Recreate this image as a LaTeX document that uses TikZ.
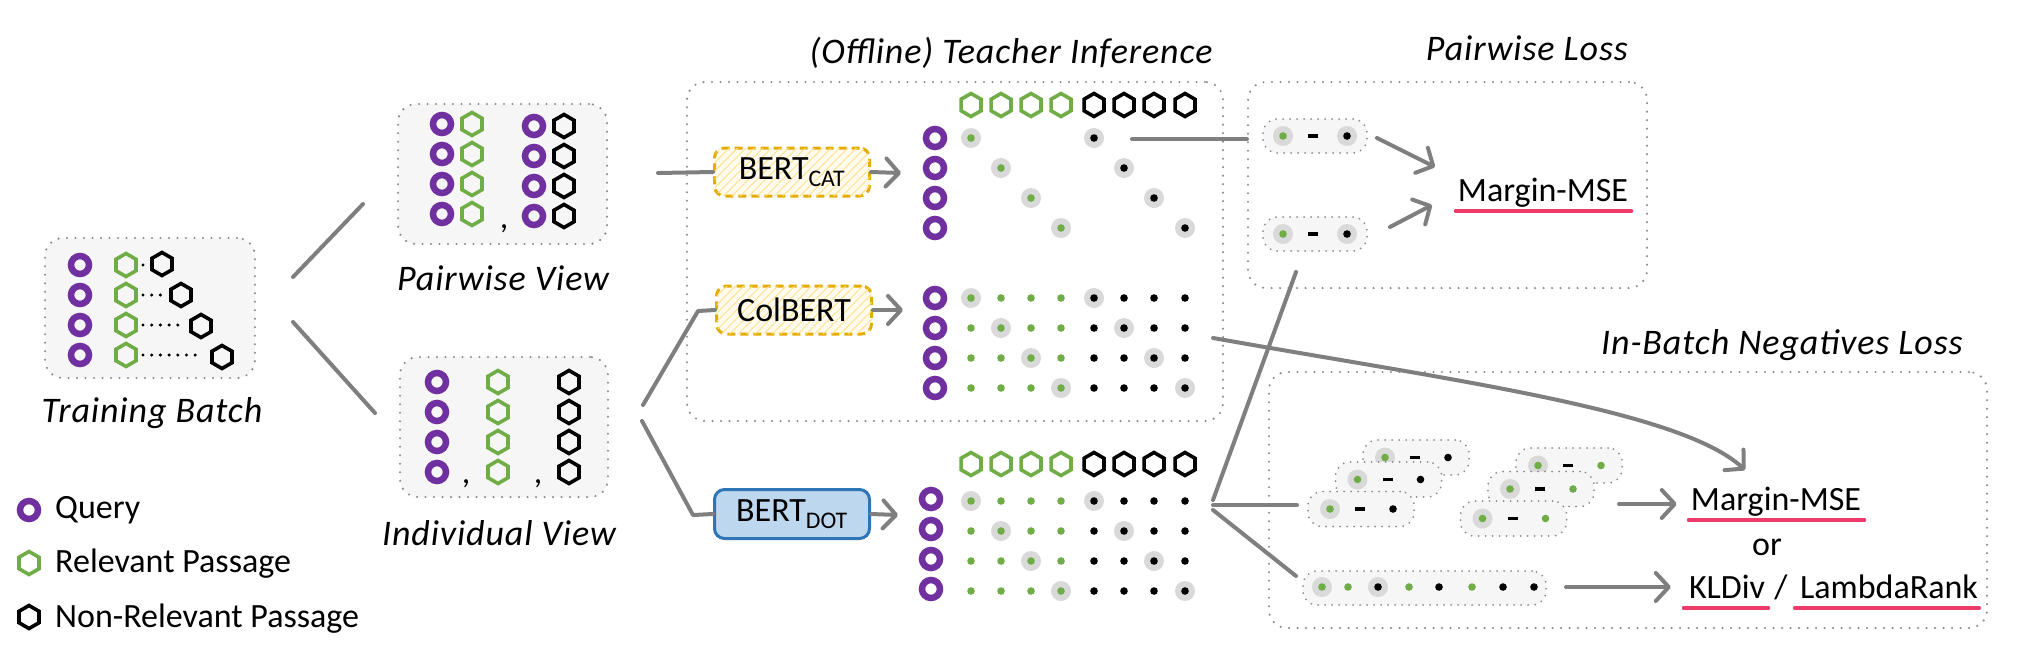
\documentclass[tikz,border=0pt]{standalone}
\usepackage{fontspec}
\setmainfont{Carlito}
\usetikzlibrary{arrows.meta,patterns.meta,calc}
\definecolor{qpurple}{HTML}{7030A0}
\definecolor{rgreen}{HTML}{70AD47}
\definecolor{conngray}{HTML}{7F7F7F}
\definecolor{dotgray}{HTML}{8C8C8C}
\definecolor{hlgray}{HTML}{D9D9D9}
\definecolor{boxfill}{HTML}{F6F6F6}
\definecolor{gold}{HTML}{E5AC00}
\definecolor{hatch}{HTML}{FFE08A}
\definecolor{lightyel}{HTML}{FFFBEF}
\definecolor{dotblue}{HTML}{BDD7EE}
\definecolor{dotborder}{HTML}{2E75B6}
\definecolor{ulpink}{HTML}{EE3B6A}
\tikzset{
  dotbox/.style={draw=dotgray, line width=2.4pt, dash pattern=on 0pt off 8.5pt, line cap=round, rounded corners=18pt, inner sep=0pt},
  grpbox/.style={dotbox, fill=boxfill},
  pillbox/.style={draw=dotgray, line width=2pt, dash pattern=on 0pt off 7pt, line cap=round, rounded corners=14pt, fill=boxfill, minimum height=35pt, minimum width=106pt, inner sep=0pt},
  conn/.style={draw=conngray, line width=4pt, line cap=round, line join=round},
  arr/.style={conn, -{Straight Barb[length=13pt,width=28pt,round]}},
  lbl/.style={font=\fontsize{34}{40}\selectfont, inner sep=0pt},
  ilbl/.style={font=\fontsize{36}{42}\selectfont\itshape\addfontfeature{LetterSpace=2.5}, inner sep=0pt},
  teacherbox/.style={draw=gold, line width=3pt, dash pattern=on 8pt off 5pt, rounded corners=10pt, fill=lightyel, postaction={pattern={Lines[angle=45,distance=6pt,line width=0.9pt]}, pattern color=hatch}, minimum width=155pt, minimum height=48pt, inner sep=0pt, font=\fontsize{34}{40}\selectfont},
  studentbox/.style={draw=dotborder, line width=3pt, rounded corners=10pt, fill=dotblue, minimum width=155pt, minimum height=49pt, inner sep=0pt, font=\fontsize{34}{40}\selectfont},
  ul/.style={draw=ulpink, line width=4pt, line cap=round},
  pics/qry/.style={code={\draw[qpurple, line width=6.5pt] (0,0) circle[radius=9pt];}},
  pics/hex/.style={code={\draw[#1, line width=3.6pt, line join=miter] (90:11.5pt)--(150:11.5pt)--(210:11.5pt)--(270:11.5pt)--(330:11.5pt)--(30:11.5pt)--cycle;}},
  pics/hdot/.style={code={\fill[hlgray] (0,0) circle[radius=10pt]; \fill[#1] (0,0) circle[radius=3.8pt];}},
  pics/sdot/.style={code={\fill[#1] (0,0) circle[radius=3.8pt];}},
  pics/tdot/.style={code={\fill[black] (0,0) circle[radius=1.7pt];}},
  pics/minus/.style={code={\fill[black] (-5pt,-1.8pt) rectangle (5pt,1.8pt);}},
}
\begin{document}
\begin{tikzpicture}[x=1pt,y=-1pt]
\useasboundingbox (0,0) rectangle (2021,665);

% ---------------- Training batch ----------------
\node[grpbox, minimum width=210pt, minimum height=140pt] (tb) at (150,308) {};
\foreach \ry [count=\ri] in {265,295,325,355}{
  \pic at (80,\ry) {qry};
  \pic at (126,\ry) {hex=rgreen};
}
\pic at (162,264) {hex=black};
\pic at (181,295) {hex=black};
\pic at (201,326) {hex=black};
\pic at (222,357) {hex=black};
\pic at (143,265) {tdot};
\foreach \k in {0,1,2}{\pic at ({143+8.7*\k},295) {tdot};}
\foreach \k in {0,...,4}{\pic at ({143+8.7*\k},325) {tdot};}
\foreach \k in {0,...,6}{\pic at ({143+8.7*\k},355) {tdot};}
\node[ilbl] (tbl) at (152,413) {Training Batch};

% ---------------- Pairwise view ----------------
\node[grpbox, minimum width=209pt, minimum height=140pt] (pv) at (502.5,174) {};
\foreach \ry in {124,154,184,214}{
  \pic at (442,\ry) {qry};
  \pic at (472,\ry) {hex=rgreen};
}
\foreach \ry in {126,156,186,216}{
  \pic at (534,\ry) {qry};
  \pic at (564,\ry) {hex=black};
}
\node[lbl, anchor=base] (pvc) at (504,228) {,};
\node[ilbl] (pvl) at (503,278) {Pairwise View};

% ---------------- Individual view ----------------
\node[grpbox, minimum width=208pt, minimum height=140pt] (iv) at (504,427) {};
\foreach \ry in {382,412,442,472}{
  \pic at (437,\ry) {qry};
  \pic at (498,\ry) {hex=rgreen};
  \pic at (569,\ry) {hex=black};
}
\node[lbl, anchor=base] (ivc1) at (466,483) {,};
\node[lbl, anchor=base] (ivc2) at (538,483) {,};
\node[ilbl] (ivl) at (499,533) {Individual View};

% connectors from training batch
\coordinate (tbu) at (293,277);
\coordinate (pvin) at (363,204);
\coordinate (tbd) at (293,322);
\coordinate (ivin) at (375,413);
\draw[conn] (tbu) -- (pvin);
\draw[conn] (tbd) -- (ivin);

% ---------------- Legend ----------------
\pic at (29,510) {qry};
\node[lbl, anchor=base west] (lq) at (55,518) {Query};
\pic at (29,563) {hex=rgreen};
\node[lbl, anchor=base west] (lr) at (55,572) {Relevant Passage};
\pic at (29,617) {hex=black};
\node[lbl, anchor=base west] (ln) at (55,627) {Non-Relevant Passage};

% ---------------- Teacher inference ----------------
\node[dotbox, minimum width=536pt, minimum height=339pt] (ti) at (955,251.5) {};
\node[ilbl] (til) at (1011,53) {(Offline) Teacher Inference};
\node[teacherbox] (bcat) at (792,172) {BERT\textsubscript{CAT}};
\node[teacherbox] (cbert) at (794,310) {ColBERT};
\node[studentbox] (bdot) at (792,514) {BERT\textsubscript{DOT}};

\coordinate (pvout) at (658,173);
\draw[conn] (pvout) -- (bcat.west);
\coordinate (ivout1) at (643,405);
\coordinate (ivout2) at (642,421);
\draw[conn] (ivout1) -- (698,311) -- (cbert.west);
\draw[conn] (ivout2) -- (693,515) -- (bdot.west);

\coordinate (catin) at (901,173);
\coordinate (colin) at (903,310);
\coordinate (dotin) at (898,515);
\draw[arr] (bcat.east) -- (catin);
\draw[arr] (cbert.east) -- (colin);
\draw[arr] (bdot.east) -- (dotin);

% BERT_CAT matrix
\foreach \cx in {971,1001,1031,1061}{\pic at (\cx,105) {hex=rgreen};}
\foreach \cx in {1094,1124,1154,1185}{\pic at (\cx,105) {hex=black};}
\foreach \ry in {138,168,198,228}{\pic at (935,\ry) {qry};}
\foreach \gx/\bx/\ry in {971/1094/138,1001/1124/168,1031/1154/198,1061/1185/228}{
  \pic at (\gx,\ry) {hdot=rgreen};
  \pic at (\bx,\ry) {hdot=black};
}

% ColBERT matrix
\foreach \ry [count=\ri] in {298,328,358,388}{
  \pic at (935,\ry) {qry};
  \foreach \cx [count=\ci] in {971,1001,1031,1061,1094,1124,1154,1185}{
    \pgfmathtruncatemacro{\ish}{(\ci==\ri || \ci==\ri+4) ? 1 : 0}
    \ifnum\ci<5 \def\dc{rgreen}\else\def\dc{black}\fi
    \ifnum\ish=1 \pic at (\cx,\ry) {hdot=\dc};\else\pic at (\cx,\ry) {sdot=\dc};\fi
  }
}

% BERT_DOT matrix
\foreach \cx in {971,1001,1031,1061}{\pic at (\cx,464) {hex=rgreen};}
\foreach \cx in {1094,1124,1154,1185}{\pic at (\cx,464) {hex=black};}
\foreach \ry [count=\ri] in {501,531,561,591}{
  \pic at (931,\ry-2) {qry};
  \foreach \cx [count=\ci] in {971,1001,1031,1061,1094,1124,1154,1185}{
    \pgfmathtruncatemacro{\ish}{(\ci==\ri || \ci==\ri+4) ? 1 : 0}
    \ifnum\ci<5 \def\dc{rgreen}\else\def\dc{black}\fi
    \ifnum\ish=1 \pic at (\cx,\ry) {hdot=\dc};\else\pic at (\cx,\ry) {sdot=\dc};\fi
  }
}

% ---------------- Pairwise loss ----------------
\node[dotbox, minimum width=399pt, minimum height=206pt] (pl) at (1447.5,185) {};
\node[ilbl] (pll) at (1527,48) {Pairwise Loss};
\node[pillbox, minimum width=104pt, minimum height=34pt] (pp1) at (1315,136) {};
\node[pillbox, minimum width=104pt, minimum height=34pt] (pp2) at (1315,234) {};
\foreach \p in {pp1,pp2}{
  \pic at ([xshift=-32pt]\p.center) {hdot=rgreen};
  \pic at ([xshift=-2pt]\p.center) {minus};
  \pic at ([xshift=32pt]\p.center) {hdot=black};
}
\node[lbl, anchor=base] (mm1) at (1543,201) {Margin-MSE};
\draw[ul] ($(mm1.base west)+(-2,10)$) -- ($(mm1.base east)+(3,10)$);
\coordinate (pp1a) at (1377,138);
\coordinate (pp2a) at (1390,227);
\draw[arr] (pp1a) -- (1435,167);
\draw[arr] (pp2a) -- (1432,205);

% connector CAT -> pairwise loss
\coordinate (catout) at (1132,139);
\coordinate (plin) at (1247,139);
\draw[conn] (catout) -- (plin);

% ---------------- In-batch loss ----------------
\node[dotbox, minimum width=718pt, minimum height=256pt] (ib) at (1628,500) {};
\node[ilbl] (ibl) at (1782,345) {In-Batch Negatives Loss};

\node[pillbox] (a3) at (1416,457.5) {};
\pic at ([xshift=-31pt]a3.center) {hdot=rgreen};
\pic at ([xshift=-1pt]a3.center) {minus};
\pic at ([xshift=32pt]a3.center) {sdot=black};
\node[pillbox] (a2) at (1388.5,479.5) {};
\pic at ([xshift=-31pt]a2.center) {hdot=rgreen};
\pic at ([xshift=-1pt]a2.center) {minus};
\pic at ([xshift=32pt]a2.center) {sdot=black};
\node[pillbox] (a1) at (1361,509) {};
\pic at ([xshift=-31pt]a1.center) {hdot=rgreen};
\pic at ([xshift=-1pt]a1.center) {minus};
\pic at ([xshift=32pt]a1.center) {sdot=black};
\node[pillbox] (b3) at (1569,465.5) {};
\pic at ([xshift=-31pt]b3.center) {hdot=rgreen};
\pic at ([xshift=-1pt]b3.center) {minus};
\pic at ([xshift=32pt]b3.center) {sdot=rgreen};
\node[pillbox] (b2) at (1541,489) {};
\pic at ([xshift=-31pt]b2.center) {hdot=rgreen};
\pic at ([xshift=-1pt]b2.center) {minus};
\pic at ([xshift=32pt]b2.center) {sdot=rgreen};
\node[pillbox] (b1) at (1513.5,518.5) {};
\pic at ([xshift=-31pt]b1.center) {hdot=rgreen};
\pic at ([xshift=-1pt]b1.center) {minus};
\pic at ([xshift=32pt]b1.center) {sdot=rgreen};

\node[pillbox, minimum width=243pt, minimum height=34pt] (lp) at (1424.5,588) {};
\pic at (1322,587) {hdot=rgreen};
\pic at (1348,587) {sdot=rgreen};
\pic at (1378,587) {hdot=black};
\pic at (1409,587) {sdot=rgreen};
\pic at (1439,587) {sdot=black};
\pic at (1472,587) {sdot=rgreen};
\pic at (1503,587) {sdot=black};
\pic at (1534,587) {sdot=black};

\node[lbl, anchor=base] (mm2) at (1776,510) {Margin-MSE};
\draw[ul] ($(mm2.base west)+(-2,10)$) -- ($(mm2.base east)+(3,10)$);
\node[lbl, anchor=base] (orl) at (1767,555) {or};
\node[lbl, anchor=base] (kl) at (1727,598) {KLDiv};
\node[lbl, anchor=base] (sl) at (1781,598) {/};
\node[lbl, anchor=base] (lr2) at (1889,598) {LambdaRank};
\draw[ul] ($(kl.base west)+(-5,10)$) -- ($(kl.base east)+(3,10)$);
\draw[ul] ($(lr2.base west)+(-5,10)$) -- ($(lr2.base east)+(1,10)$);

\coordinate (ga) at (1619,504);
\coordinate (gb) at (1566,587);
\draw[arr] (ga) -- ($(mm2.base west)+(-14,-6)$);
\draw[arr] (gb) -- ($(kl.base west)+(-18,-11)$);

% connectors from BERT_DOT matrix
\coordinate (dotout1) at (1213,500);
\coordinate (dotout2) at (1213,505);
\coordinate (dotout3) at (1213,510);
\coordinate (plbot) at (1296,272);
\coordinate (ibin1) at (1297,505);
\coordinate (ibin2) at (1296,576);
\draw[conn] (dotout1) -- (plbot);
\draw[conn] (dotout2) -- (ibin1);
\draw[conn] (dotout3) -- (ibin2);

% ColBERT -> in-batch margin-MSE curve
\coordinate (colout) at (1213,338);
\coordinate (mmtip) at (1745,470);
\draw[arr] (colout) .. controls (1450,380) and (1680,410) .. (mmtip);
\end{tikzpicture}
\end{document}
